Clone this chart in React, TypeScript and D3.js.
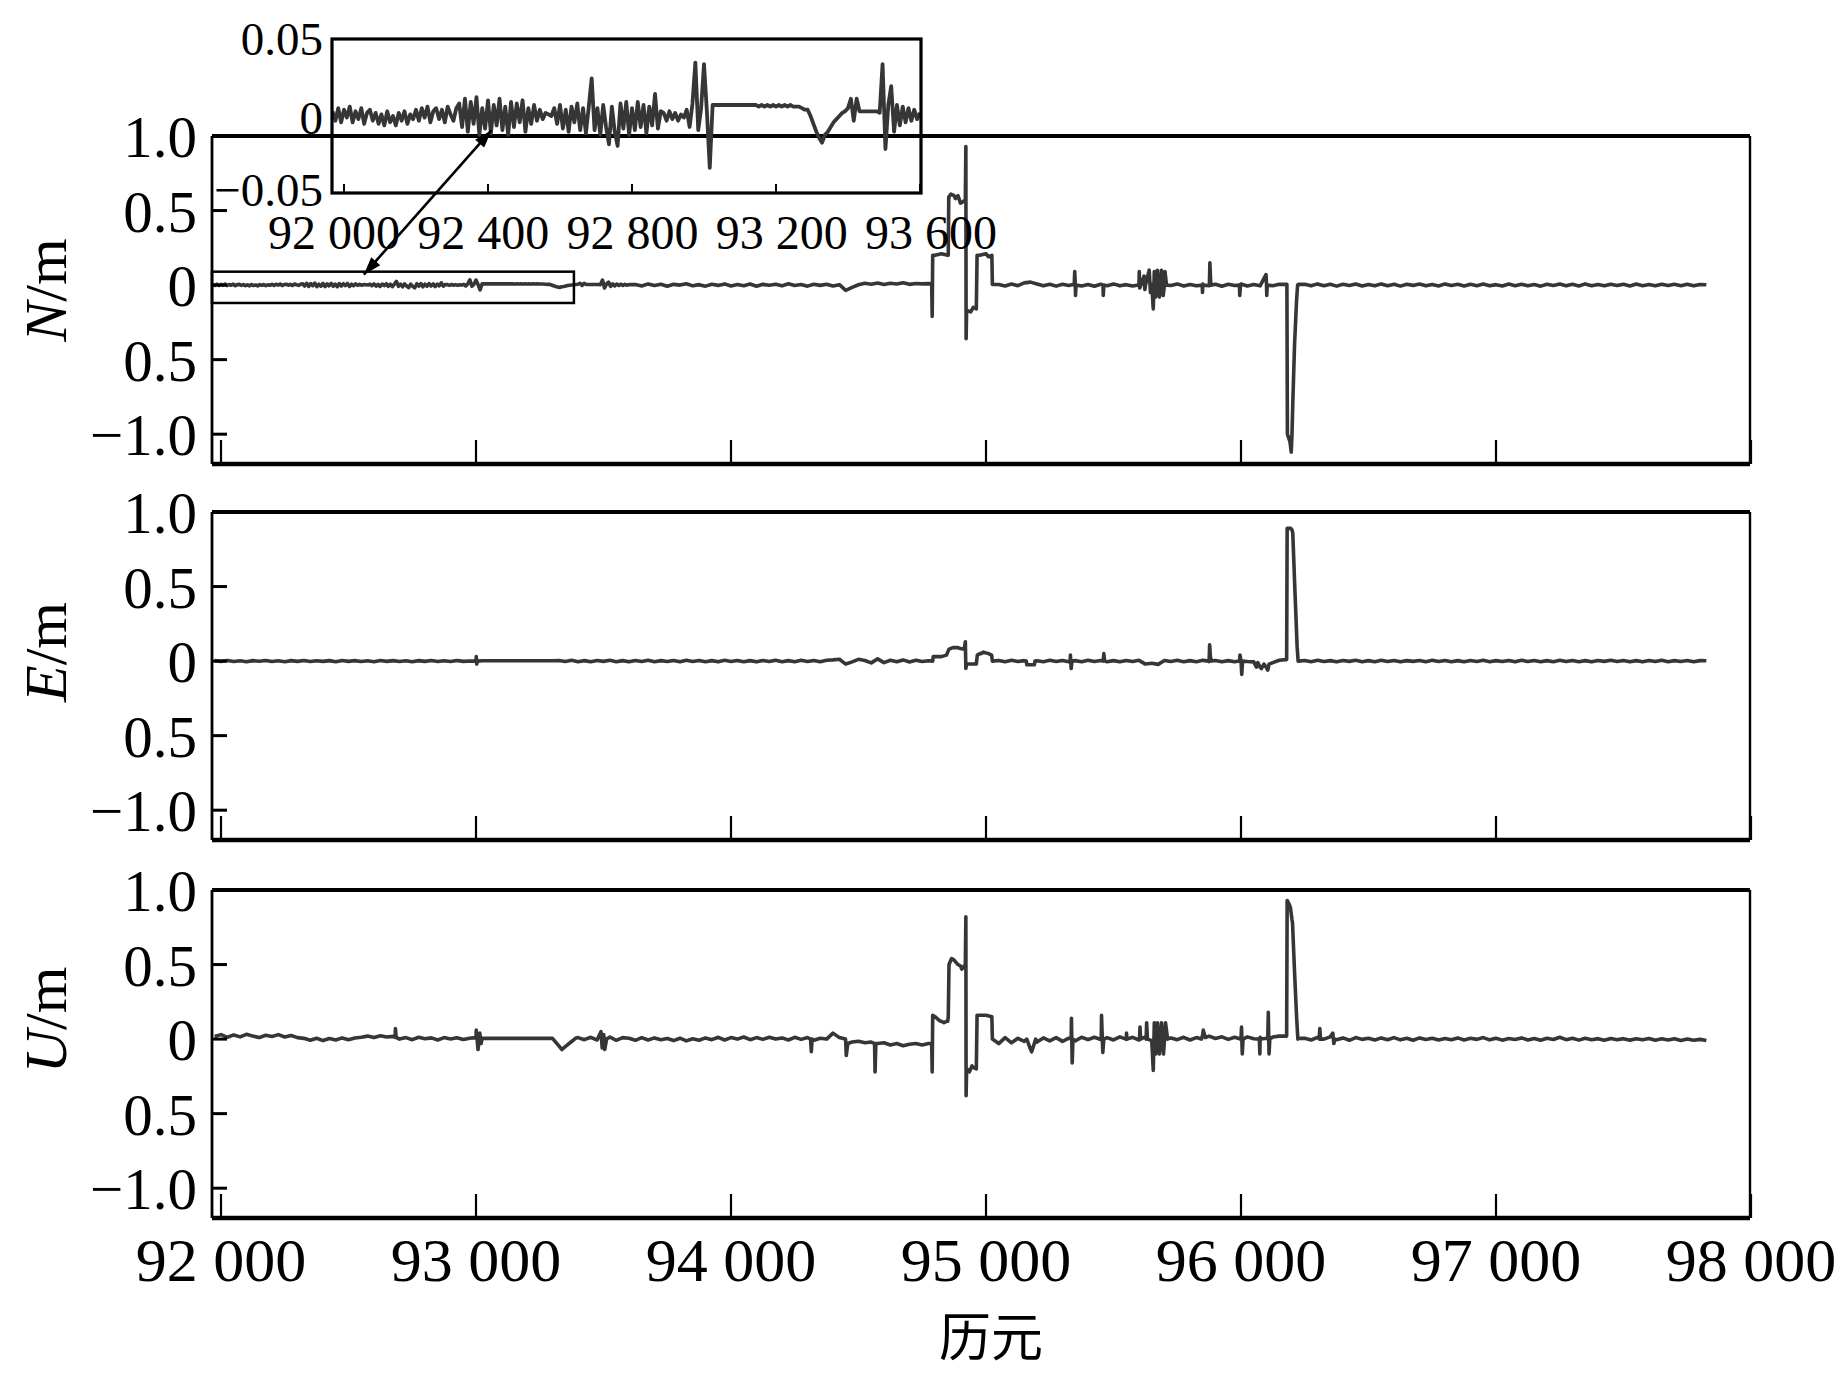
import React from 'react';
import * as d3 from 'd3';

type Pt = [number, number];

// ---------- tick labels ----------
const xTicks = [92000, 93000, 94000, 95000, 96000, 97000, 98000];
const xTickLabels = ['92 000', '93 000', '94 000', '95 000', '96 000', '97 000', '98 000'];
const yTicks = [1.0, 0.5, 0, -0.5, -1.0];
const yTickLabels = ['1.0', '0.5', '0', '0.5', '\u22121.0'];
const insetXTicks = [92000, 92400, 92800, 93200, 93600];
const insetXTickLabels = ['92 000', '92 400', '92 800', '93 200', '93 600'];
const insetYTicks = [0.05, 0, -0.05];
const insetYTickLabels = ['0.05', '0', '\u22120.05'];
const panelNames = ['N', 'E', 'U'];

// ---------- N series: detail part (epoch 91968 + 8*j, shown in inset) ----------
const nDetailStart = 91968;
const nDetailStep = 8;
const nDetail = [
  0.004, -0.002, 0.006, -0.003, 0.005, 0.000, 0.007, -0.003, 0.004, -0.001, 0.006, -0.004, 0.003, 0.005, -0.002,
  0.003, -0.004, 0.002, -0.005, 0.004, -0.003, 0.001, -0.005, 0.003, -0.002, 0.004, -0.004, 0.002, -0.001,
  0.005, -0.002, 0.006, 0.000, 0.007, -0.003, 0.004, 0.006, -0.001, 0.005, -0.003, 0.007, 0.002, -0.002, 0.006,
  0.009, -0.006, 0.012, -0.009, 0.010, -0.004, 0.013, -0.011, 0.006, -0.007, 0.011, -0.010, 0.008, -0.005, 0.012, -0.008,
  0.007, -0.011, 0.010, -0.006, 0.009, -0.003, 0.011, -0.009, 0.006, -0.004, 0.008, -0.002, 0.005, -0.001, 0.003,
  0.002, 0.001,
  0.006, -0.004, 0.008, -0.007, 0.005, -0.009, 0.007, -0.003, 0.009, -0.008, 0.006, -0.010, 0.007,
  0.025,
  -0.008, 0.006, -0.011, 0.008, -0.006,
  -0.017,
  0.007, -0.009,
  -0.018,
  0.009, -0.007, 0.010, -0.011, 0.006, -0.008, 0.010, -0.006, 0.008, -0.010, 0.007, -0.005, 0.015, -0.007, 0.004,
  0.003, -0.002, 0.004, -0.001, 0.003, -0.002, 0.002, 0.000,
  0.005, -0.006, 0.009, 0.035, -0.008, 0.006, 0.034, 0.004, -0.032,
  0.008, 0.008, 0.008, 0.008, 0.008, 0.008, 0.008, 0.008, 0.008, 0.008, 0.008, 0.008, 0.008, 0.008, 0.008, 0.008,
  0.007, 0.008, 0.007, 0.008, 0.007, 0.008, 0.007, 0.008, 0.007, 0.008, 0.007, 0.008, 0.007, 0.007,
  0.007, 0.006, 0.005, 0.005,
  0.001, -0.004, -0.009, -0.013, -0.016, -0.011,
  -0.009, -0.006, -0.003, -0.001, 0.001, 0.003, 0.004,
  0.006, 0.012, -0.002, 0.012,
  0.004, 0.004, 0.004, 0.004, 0.004, 0.004, 0.004,
  0.003, 0.034, -0.020, 0.008, 0.020, -0.009, 0.008, -0.005, 0.007, -0.003, 0.006, -0.002, 0.005, -0.001, 0.003,
];

// ---------- N series: main part (epoch 93625 + 25*k) ----------
const nMainStart = 93625;
const gridStep = 25;
const nMain = [
  0.004, -0.006, 0.008, -0.003, 0.006, -0.008, 0.005, 0.000, 0.009, -0.005,
  0.003, -0.007, 0.006, -0.002, 0.008, -0.006, 0.004, -0.004, 0.007, -0.008,
  0.005, -0.001, 0.006, -0.005, 0.009, -0.003, 0.004, -0.007, 0.006, -0.002,
  0.005, -0.006, 0.003,
  -0.035,
  -0.015, 0.002, 0.012, 0.006, 0.014, 0.004, 0.012, 0.007, 0.015, 0.005, 0.011, 0.008, 0.010,
  0.20, 0.21, 0.20, 0.60, 0.55, -0.17, -0.15, 0.20, 0.21, 0.005,
  0.004, -0.006, 0.007, -0.004, 0.015, 0.020, 0.008, -0.005, 0.006, -0.007,
  0.005, -0.003, 0.007, -0.006, 0.004, -0.008, 0.006, -0.004, 0.008, -0.005,
  0.003, -0.006, 0.007, -0.004, 0.005, -0.007, 0.006, -0.003, 0.008, -0.006,
  0.004, -0.005, 0.007, -0.004, 0.006, -0.008, 0.005, -0.003, 0.007, -0.006,
  0.004, -0.005, 0.006, -0.004, 0.005,
  0.005, -1.0, 0.005,
  0.006, -0.005, 0.008, -0.004, 0.005, -0.007, 0.006, -0.003, 0.007, -0.006,
  0.004, -0.005, 0.008, -0.004, 0.006, -0.007, 0.005, -0.002, 0.007, -0.005,
  0.004, -0.006, 0.008, -0.003, 0.005, -0.006, 0.006, -0.004, 0.007, -0.005,
  0.003, -0.006, 0.007, -0.004, 0.006, -0.005, 0.004, -0.007, 0.006, -0.003,
  0.007, -0.005, 0.005, -0.006, 0.008, -0.004, 0.004, -0.005, 0.006, -0.003,
  0.005, -0.006, 0.007, -0.004, 0.004, -0.005, 0.006, -0.003, 0.005, -0.004,
  0.006, -0.005, 0.004, 0.002,
];
const nEvents: Pt[] = [
  [94787, 0.008], [94789, -0.21], [94791, 0.2], [94852, 0.2], [94854, 0.59], [94862, 0.61], [94880, 0.58],
  [94890, 0.6], [94910, 0.56], [94919, 0.57], [94921, 0.93], [94922, -0.36], [94924, -0.17], [94940, -0.18],
  [94962, -0.16], [94965, 0.2], [95010, 0.19], [95023, 0.2],
  [95346, 0.005], [95348, 0.09], [95351, -0.07], [95353, 0.0],
  [95459, 0.0], [95460, -0.07], [95462, 0.0],
  [95598, 0.0], [95601, 0.09], [95603, -0.02], [95620, 0.06], [95623, -0.03], [95640, 0.1], [95645, -0.05],
  [95656, -0.16], [95660, 0.09], [95665, -0.08], [95672, 0.1], [95680, -0.08], [95688, 0.1], [95695, -0.07],
  [95702, 0.09], [95708, 0.0],
  [95848, 0.0], [95849, -0.05], [95851, 0.0], [95876, 0.0], [95878, 0.15], [95881, 0.02], [95885, 0.0],
  [95994, 0.0], [95995, -0.07], [95998, 0.0],
  [96098, 0.07], [96101, -0.07], [96103, 0.0],
  [96180, 0.005], [96182, -1.0], [96192, -1.05], [96197, -1.12], [96203, -0.8], [96210, -0.4], [96218, -0.1], [96222, 0.0],
];

// ---------- E series (epoch 91975 + 25*i) ----------
const euStart = 91975;
const eGrid = [
  0.003, -0.002, 0.004, -0.003, 0.002, -0.004, 0.003, -0.001, 0.004, -0.003,
  0.002, -0.004, 0.003, -0.002, 0.004, -0.003, 0.002, -0.002, 0.003, -0.004,
  0.004, -0.002, 0.003, -0.003, 0.002, -0.004, 0.004, -0.002, 0.003, -0.003,
  0.002, -0.004, 0.003, -0.002, 0.004, -0.003, 0.002, -0.003, 0.004, -0.002,
  0.001,
  0.002, 0.002, 0.002, 0.002, 0.002, 0.002, 0.002, 0.002, 0.002, 0.002, 0.002, 0.002, 0.002,
  0.004, -0.003, 0.005, -0.004, 0.003, -0.005, 0.004, -0.002, 0.005, -0.004,
  0.003, -0.005, 0.004, -0.003, 0.005, -0.004, 0.003, -0.003, 0.004, -0.005,
  0.005, -0.003, 0.004, -0.004, 0.003, -0.005, 0.005, -0.003, 0.004, -0.004,
  0.003, -0.005, 0.004, -0.003, 0.005, -0.004, 0.003, -0.004, 0.005, -0.003,
  0.004, -0.004, 0.006,
  0.008, 0.012, -0.02, -0.005, 0.012, 0.004, -0.012, 0.015, -0.01, 0.006, -0.004, 0.008, -0.006, 0.005, -0.003,
  0.002,
  0.03, 0.03, 0.06, 0.09, 0.085, -0.02, -0.02, 0.05, 0.055, 0.0,
  0.004, -0.004, 0.005, -0.003, 0.003, -0.025, 0.002, -0.004, 0.005, -0.003,
  0.004, -0.005, 0.003, -0.004, 0.005, -0.003, 0.004, -0.004, 0.003, -0.005,
  0.004, -0.003, 0.005, -0.02, -0.015, -0.022, 0.004, -0.003, 0.005, -0.004,
  0.003, -0.004, 0.005, -0.003, 0.004, -0.004, 0.003, -0.005, 0.004, -0.003,
  -0.005, -0.04, -0.045, -0.01, 0.006,
  0.01, 0.88, 0.0,
  0.004, -0.004, 0.005, -0.003, 0.003, -0.005, 0.004, -0.002, 0.005, -0.004,
  0.003, -0.004, 0.005, -0.003, 0.004, -0.005, 0.003, -0.002, 0.004, -0.004,
  0.005, -0.003, 0.004, -0.004, 0.003, -0.005, 0.004, -0.003, 0.005, -0.004,
  0.003, -0.003, 0.004, -0.005, 0.005, -0.003, 0.004, -0.004, 0.003, -0.004,
  0.005, -0.003, 0.004, -0.004, 0.003, -0.005, 0.004, -0.002, 0.005, -0.003,
  0.004, -0.004, 0.003, -0.005, 0.004, -0.003, 0.005, -0.004, 0.003, -0.003,
  0.004, -0.004, 0.003, 0.002,
];
const eEvents: Pt[] = [
  [92998, 0.0], [93001, 0.03], [93003, -0.02], [93006, 0.0],
  [94791, 0.0], [94793, 0.03], [94845, 0.04], [94855, 0.08], [94870, 0.09], [94890, 0.09], [94915, 0.08],
  [94919, 0.13], [94921, -0.05], [94924, -0.02], [94962, -0.02], [94966, 0.04], [94980, 0.05], [94990, 0.06],
  [95010, 0.05], [95022, 0.04],
  [95158, 0.0], [95160, -0.025], [95190, -0.025], [95192, 0.0],
  [95330, 0.0], [95331, 0.04], [95334, -0.05], [95337, 0.0],
  [95460, 0.0], [95462, 0.05], [95465, 0.0],
  [95874, 0.0], [95877, 0.11], [95880, 0.03], [95884, 0.0],
  [95994, 0.0], [95996, 0.04], [96003, -0.09], [96006, 0.0],
  [96060, -0.04], [96066, -0.01], [96080, -0.05], [96090, -0.02], [96105, -0.06], [96110, -0.02],
  [96179, 0.01], [96181, 0.89], [96195, 0.89], [96203, 0.86], [96212, 0.45], [96220, 0.1], [96224, 0.0],
];

// ---------- U series (epoch 91975 + 25*i) ----------
const uGrid = [
  0.018, 0.030, 0.012, 0.028, 0.015, 0.032, 0.020, 0.010, 0.026, 0.018, 0.030, 0.014, 0.024, 0.010, 0.005,
  -0.008, 0.006, -0.010, 0.004, -0.006, 0.008, -0.004, 0.007, 0.012,
  0.020, 0.010, 0.022, 0.014, 0.018,
  0.000, 0.010, -0.004, 0.012, 0.002, 0.008, -0.006, 0.010, 0.001, 0.009, -0.003, 0.006,
  0.005, 0.005, 0.005, 0.005, 0.005, 0.005, 0.005, 0.005, 0.005, 0.005, 0.005, 0.005, 0.005,
  -0.046, -0.05, -0.016,
  0.010, -0.004, 0.012, -0.006, 0.000, 0.014, -0.008, 0.010,
  0.006, -0.008, 0.010, -0.006, 0.008, -0.004, 0.004, -0.010, 0.006, -0.012,
  0.002, -0.008, 0.008, -0.004, 0.012, -0.006, 0.010, 0.000, 0.014, -0.004,
  0.010, -0.002, 0.012, 0.000, 0.008, -0.006, 0.012, -0.002, 0.010, -0.008,
  0.006, 0.000,
  0.04, 0.01, -0.02, -0.02, -0.015, -0.025, -0.02, -0.03, -0.025, -0.04, -0.03, -0.045, -0.035, -0.03, -0.04,
  -0.03,
  0.15, 0.12, 0.12, 0.53, 0.49, -0.2, -0.19, 0.16, 0.16, 0.0,
  -0.03, 0.01, -0.025, 0.005, -0.015, -0.07, -0.02, 0.008, -0.012, 0.01,
  -0.015, 0.006, -0.012, 0.012, -0.004, 0.012, -0.003, 0.01, -0.006, 0.015,
  -0.002, 0.012, -0.006, 0.015, -0.01, 0.004, -0.006, 0.008, -0.004, 0.012,
  -0.006, 0.01, 0.03, 0.02, 0.004, 0.015, -0.002, 0.012, -0.004, 0.015,
  0.002, 0.012, 0.006, 0.014, 0.02,
  0.02, 0.8, 0.005,
  0.006, -0.006, 0.012, 0.0, 0.015, -0.004, 0.008, -0.008, 0.01, -0.002,
  0.006, -0.006, 0.008, -0.004, 0.01, -0.005, 0.006, -0.008, 0.008, -0.003,
  0.006, -0.006, 0.004, -0.004, 0.008, -0.006, 0.005, -0.002, 0.01, -0.005,
  0.006, -0.007, 0.004, -0.003, 0.008, -0.006, 0.004, -0.008, 0.006, -0.003,
  0.012, -0.004, 0.006, -0.007, 0.005, -0.004, 0.003, -0.008, 0.004, -0.005,
  0.003, -0.007, 0.002, -0.005, 0.004, -0.008, 0.002, -0.006, 0.003, -0.009,
  0.001, -0.008, -0.002, -0.01,
];
const uEvents: Pt[] = [
  [92683, 0.012], [92684, 0.07], [92687, 0.012],
  [92998, 0.01], [93001, 0.06], [93008, -0.07], [93015, 0.04], [93020, -0.03], [93024, 0.005],
  [93337, -0.07], [93390, 0.005],
  [93490, 0.05], [93495, -0.06], [93501, 0.03], [93505, -0.07], [93512, 0.0],
  [94312, 0.0], [94315, -0.085], [94318, 0.0],
  [94449, 0.0], [94452, -0.11], [94458, -0.03],
  [94563, -0.03], [94565, -0.22], [94568, -0.03],
  [94787, -0.03], [94789, -0.22], [94791, 0.16], [94820, 0.12], [94835, 0.11], [94848, 0.12], [94852, 0.15],
  [94855, 0.5], [94865, 0.54], [94890, 0.5], [94905, 0.47], [94919, 0.5], [94921, 0.82], [94922, -0.38],
  [94924, -0.2], [94935, -0.22], [94945, -0.18], [94962, -0.2], [94965, 0.16], [95023, 0.15],
  [95160, 0.0], [95179, -0.085], [95195, 0.0],
  [95334, 0.0], [95335, 0.14], [95338, -0.16], [95341, 0.0],
  [95452, 0.0], [95453, 0.16], [95458, -0.09], [95462, 0.0],
  [95549, 0.0], [95551, 0.04], [95553, 0.0], [95602, 0.0], [95604, 0.08], [95606, 0.0],
  [95628, 0.0], [95630, 0.11], [95633, 0.0], [95656, -0.21], [95660, 0.11], [95666, -0.1], [95672, 0.11],
  [95680, -0.1], [95688, 0.11], [95696, -0.1], [95704, 0.11], [95712, 0.0],
  [95845, 0.0], [95852, 0.06], [95860, 0.01],
  [95999, 0.0], [96002, 0.08], [96005, -0.1], [96008, 0.0],
  [96072, 0.0], [96074, -0.1], [96077, 0.0],
  [96105, 0.0], [96107, 0.18], [96110, -0.1], [96113, 0.0],
  [96179, 0.02], [96181, 0.93], [96190, 0.9], [96194, 0.88], [96202, 0.78], [96210, 0.45], [96218, 0.15], [96223, 0.0],
  [96307, 0.0], [96309, 0.07], [96312, 0.0], [96360, 0.04], [96364, -0.03], [96368, 0.0],
];

// highlight box (data coords) and arrow ends
const boxEpochs = [91965, 93384];
const boxValues = [0.09, -0.12];
const arrowFrom: Pt = [92560, 0.07]; // main N panel coords
const arrowTo: Pt = [92410, -0.008]; // inset coords

// ---------- helpers ----------
const gridPts = (start: number, step: number, vals: number[]): Pt[] =>
  vals.map((v, i) => [start + step * i, v] as Pt);
const merge = (...lists: Pt[][]): Pt[] => lists.flat().sort((a, b) => a[0] - b[0]);

const nDetailPts = gridPts(nDetailStart, nDetailStep, nDetail);
const nSeries = merge(nDetailPts, gridPts(nMainStart, gridStep, nMain), nEvents);
const eSeries = merge(gridPts(euStart, gridStep, eGrid), eEvents);
const uSeries = merge(gridPts(euStart, gridStep, uGrid), uEvents);
const allSeries = [nSeries, eSeries, uSeries];

// ---------- layout ----------
const W = 1843;
const H = 1373;
const panelLeft = 212;
const panelRight = 1750;
const panelTops = [136, 512, 890];
const panelH = 328;
const yLabelCenters = [290, 652, 1020];
const inset = { left: 332, right: 921, top: 39, bottom: 193 };
const serif = "'Liberation Serif', 'Times New Roman', 'DejaVu Serif', serif";
const lineColor = '#363636';

function arrowHead(x1: number, y1: number, x2: number, y2: number, len: number, wid: number) {
  const a = Math.atan2(y2 - y1, x2 - x1);
  const bx = x2 - len * Math.cos(a);
  const by = y2 - len * Math.sin(a);
  const px = (-Math.sin(a) * wid) / 2;
  const py = (Math.cos(a) * wid) / 2;
  return `M${x2},${y2}L${bx + px},${by + py}L${bx - px},${by - py}Z`;
}

export default function App() {
  const x = d3.scaleLinear().domain([92000, 98000]).range([221, 1751]);
  const yScales = panelTops.map((t) => d3.scaleLinear().domain([-1.2, 1.0]).range([t + panelH, t]));
  const xi = d3.scaleLinear().domain([92000, 93600]).range([344, 920]);
  const xiLabel = d3.scaleLinear().domain([92000, 93600]).range([334, 931]);
  const yi = d3.scaleLinear().domain([-0.048, 0.05]).range([inset.bottom, inset.top]);

  const insetPts = nSeries.filter((d) => d[0] <= 93600);
  const insetLine = d3
    .line<Pt>()
    .x((d) => xi(d[0]))
    .y((d) => yi(d[1]))(insetPts) as string;

  const ax1 = x(arrowFrom[0]);
  const ay1 = yScales[0](arrowFrom[1]);
  const ax2 = xi(arrowTo[0]);
  const ay2 = yi(arrowTo[1]);

  return (
    <svg
      width={W}
      height={H}
      viewBox={`0 0 ${W} ${H}`}
      style={{ position: 'absolute', left: 0, top: 0, display: 'block', background: '#fff' }}
    >
      <rect x={0} y={0} width={W} height={H} fill="#fff" />
      {allSeries.map((series, p) => {
        const y = yScales[p];
        const top = panelTops[p];
        const bottom = top + panelH;
        const path = d3
          .line<Pt>()
          .x((d) => x(d[0]))
          .y((d) => y(d[1]))(series) as string;
        return (
          <g key={p}>
            <path d={path} fill="none" stroke={lineColor} strokeWidth={3.6} strokeLinejoin="round" />
            {/* frame */}
            <line x1={panelLeft} x2={panelRight} y1={top} y2={top} stroke="#000" strokeWidth={4} />
            <line x1={panelLeft} x2={panelRight} y1={bottom} y2={bottom} stroke="#000" strokeWidth={4.5} />
            <line x1={panelLeft} x2={panelLeft} y1={top} y2={bottom} stroke="#000" strokeWidth={2.8} />
            <line x1={panelRight} x2={panelRight} y1={top} y2={bottom} stroke="#000" strokeWidth={2.4} />
            {/* y ticks */}
            {yTicks.map((v, i) => (
              <g key={'y' + i}>
                <line x1={panelLeft} x2={panelLeft + 15} y1={y(v)} y2={y(v)} stroke="#000" strokeWidth={3} />
                <text
                  x={197}
                  y={y(v) + 21}
                  textAnchor="end"
                  fontFamily={serif}
                  fontSize={59}
                  fill="#000"
                >
                  {yTickLabels[i]}
                </text>
              </g>
            ))}
            {/* x ticks */}
            {xTicks.map((t, i) => (
              <line key={'x' + i} x1={x(t)} x2={x(t)} y1={bottom} y2={bottom - 24} stroke="#000" strokeWidth={2.2} />
            ))}
            {/* y label */}
            <text
              transform={`translate(66, ${yLabelCenters[p]}) rotate(-90)`}
              textAnchor="middle"
              fontFamily={serif}
              fontSize={60}
              fill="#000"
            >
              <tspan fontStyle="italic">{panelNames[p]}</tspan>/m
            </text>
          </g>
        );
      })}

      {/* x tick labels */}
      {xTicks.map((t, i) => (
        <text key={'xl' + i} x={x(t)} y={1281} textAnchor="middle" fontFamily={serif} fontSize={62} fill="#000">
          {xTickLabels[i]}
        </text>
      ))}
      <text
        x={991}
        y={1356}
        textAnchor="middle"
        fontFamily="'Noto Sans CJK SC', 'Noto Sans CJK JP', sans-serif"
        fontSize={52}
        fill="#000"
      >
        历元
      </text>

      {/* highlight box */}
      <rect
        x={panelLeft}
        y={yScales[0](boxValues[0])}
        width={x(boxEpochs[1]) - panelLeft}
        height={yScales[0](boxValues[1]) - yScales[0](boxValues[0])}
        fill="none"
        stroke="#000"
        strokeWidth={2.5}
      />

      {/* inset */}
      <g>
        <path d={insetLine} fill="none" stroke={lineColor} strokeWidth={3.8} strokeLinejoin="round" />
        <rect
          x={inset.left}
          y={inset.top}
          width={inset.right - inset.left}
          height={inset.bottom - inset.top}
          fill="none"
          stroke="#000"
          strokeWidth={3.2}
        />
        {insetXTicks.map((t, i) => (
          <g key={'ix' + i}>
            <line x1={xi(t)} x2={xi(t)} y1={inset.bottom} y2={inset.bottom - 9} stroke="#000" strokeWidth={2} />
            <text x={xiLabel(t)} y={249} textAnchor="middle" fontFamily={serif} fontSize={48} fill="#000">
              {insetXTickLabels[i]}
            </text>
          </g>
        ))}
        {insetYTicks.map((v, i) => (
          <text
            key={'iy' + i}
            x={323}
            y={Math.min(yi(v) + 16, 206)}
            textAnchor="end"
            fontFamily={serif}
            fontSize={47}
            fill="#000"
          >
            {insetYTickLabels[i]}
          </text>
        ))}
      </g>

      {/* double arrow */}
      <line x1={ax1} y1={ay1} x2={ax2} y2={ay2} stroke="#000" strokeWidth={2.6} />
      <path d={arrowHead(ax1, ay1, ax2, ay2, 18, 12)} fill="#000" />
      <path d={arrowHead(ax2, ay2, ax1, ay1, 18, 12)} fill="#000" />
    </svg>
  );
}
